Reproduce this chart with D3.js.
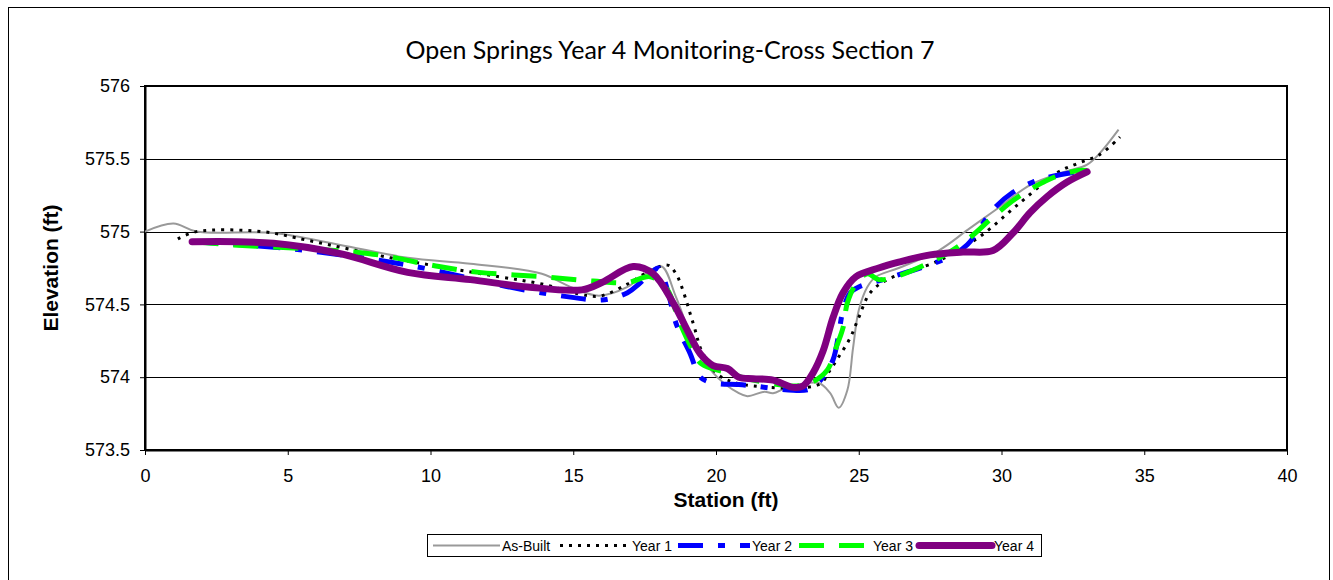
<!DOCTYPE html>
<html><head><meta charset="utf-8">
<script src="https://cdn.jsdelivr.net/npm/d3@7"></script>
<style>body{margin:0;background:#fff}svg{display:block}</style>
</head><body>
<svg id="c" width="1333" height="580"></svg>
<script>
const chartTitle = "Open Springs Year 4 Monitoring-Cross Section 7";
const xTicks = [0,5,10,15,20,25,30,35,40];
const yTicks = [573.5,574,574.5,575,575.5,576];
const seriesNames = ["As-Built","Year 1","Year 2","Year 3","Year 4"];

const asBuiltX = [0,1.0,1.8,4.5,6.8,9.2,11.4,13.9,14.9,15.9,16.9,17.6,18.1,18.6,19.2,19.9,20.8,21.1,21.7,22.0,22.5,23.6,24.0,24.3,24.6,24.8,25.0,25.3,25.6,26.4,27.8,28.8,29.8,31.0,32.2,33.0,33.45,34.1];
const asBuiltY = [575.0,575.055,575.0,574.99,574.91,574.82,574.78,574.71,574.62,574.56,574.62,574.72,574.76,574.55,574.25,574.03,573.89,573.87,573.90,573.89,573.93,573.96,573.89,573.79,573.91,574.20,574.46,574.62,574.69,574.75,574.87,575.01,575.15,575.32,575.41,575.46,575.54,575.70];

const year1X = [1.15,1.8,4.1,5.7,8.6,10.3,12.4,13.9,15.5,16.0,16.9,17.6,18.3,18.6,19.2,19.5,20.0,20.4,21.3,23.6,24.0,24.3,24.7,25.0,25.4,26.0,27.8,29.2,30.6,32.0,32.7,33.45,34.15];
const year1Y = [574.95,575.0,575.0,574.94,574.82,574.76,574.69,574.64,574.56,574.56,574.64,574.72,574.77,574.71,574.37,574.18,574.03,573.98,573.94,573.95,574.05,574.14,574.27,574.41,574.58,574.67,574.80,574.96,575.19,575.41,575.47,575.53,575.65];

const year2X = [1.7,5.2,9.2,13.0,14.9,16.0,16.9,17.3,17.8,18.0,18.3,18.6,19.1,19.45,19.9,20.8,21.3,22.7,23.3,23.75,24.1,24.3,24.45,24.7,25.0,26.0,28.1,28.8,29.7,30.4,31.1,31.8,33.0];
const year2Y = [574.93,574.88,574.77,574.61,574.55,574.53,574.58,574.64,574.73,574.75,574.60,574.37,574.16,574.00,573.96,573.95,573.94,573.91,573.92,574.00,574.12,574.30,574.46,574.58,574.62,574.68,574.82,574.91,575.15,575.27,575.34,575.38,575.42];

const year3X = [1.7,3.0,7.8,10.3,11.7,13.9,15.7,16.9,17.7,18.3,18.7,19.2,19.5,20.4,21.3,22.7,23.3,23.9,24.2,24.45,24.6,24.9,25.3,25.7,26.3,28.1,28.9,29.7,30.6,31.8,32.7,33.0];
const year3Y = [574.93,574.91,574.85,574.76,574.72,574.69,574.66,574.65,574.69,574.60,574.39,574.18,574.09,574.03,573.98,573.94,573.96,574.05,574.20,574.34,574.51,574.64,574.71,574.67,574.69,574.85,574.96,575.10,575.24,575.37,575.42,575.42];

const year4X = [1.65,4.5,6.8,9.2,11.4,13.4,15.3,16.0,17.1,17.8,18.5,19.0,19.45,19.9,20.4,20.8,21.3,22.0,22.7,23.05,23.4,23.75,24.1,24.45,24.9,25.7,26.4,27.5,28.65,29.7,30.4,31.0,31.6,32.3,33.0];
const year4Y = [574.93,574.92,574.85,574.72,574.67,574.62,574.60,574.65,574.76,574.71,574.51,574.32,574.16,574.08,574.06,574.00,573.99,573.98,573.93,573.94,574.03,574.18,574.41,574.58,574.69,574.75,574.79,574.84,574.86,574.87,574.99,575.13,575.24,575.34,575.41];

const seriesX = [asBuiltX, year1X, year2X, year3X, year4X];
const seriesY = [asBuiltY, year1Y, year2Y, year3Y, year4Y];
const styles = [
  {color:"#999999", width:2, dash:null},
  {color:"#000000", width:3, dash:"3,6"},
  {color:"#0000ff", width:5, dash:"25,15,7,15"},
  {color:"#00ff00", width:5, dash:"25,15"},
  {color:"#800080", width:7, dash:null}
];

const svg = d3.select("#c");
const F = "'Liberation Sans', Arial, sans-serif";
svg.append("rect").attr("x",8.5).attr("y",7.5).attr("width",1321).attr("height",580).attr("fill","#fff").attr("stroke","#000").attr("stroke-width",1);

const L=145, R=1287, T=86, B=450;
const x = d3.scaleLinear().domain([0,40]).range([L,R]);
const y = d3.scaleLinear().domain([573.5,576]).range([B,T]);

svg.append("g").selectAll("line").data(yTicks.filter(v=>v>573.5 && v<576)).join("line")
  .attr("x1",L).attr("x2",R).attr("y1",d=>Math.round(y(d))+0.5).attr("y2",d=>Math.round(y(d))+0.5)
  .attr("stroke","#000").attr("stroke-width",1);

svg.append("rect").attr("x",L).attr("y",T).attr("width",R-L).attr("height",B-T)
  .attr("fill","none").attr("stroke","#000").attr("stroke-width",2);

const gx = svg.append("g").attr("transform",`translate(0,${B})`)
  .call(d3.axisBottom(x).tickValues(xTicks).tickSize(5).tickSizeOuter(0).tickPadding(14));
gx.select(".domain").attr("stroke","#000").attr("stroke-width",2);
gx.selectAll("text").attr("font-family",F).attr("font-size",18).attr("fill","#000");

const gy = svg.append("g").attr("transform",`translate(${L},0)`)
  .call(d3.axisLeft(y).tickValues(yTicks).tickSize(5).tickSizeOuter(0).tickPadding(10).tickFormat(d3.format("")));
gy.select(".domain").attr("stroke","#000").attr("stroke-width",2);
gy.selectAll("text").attr("font-family",F).attr("font-size",18).attr("fill","#000");

const line = d3.line().x(d=>x(d[0])).y(d=>y(d[1])).curve(d3.curveCatmullRom.alpha(0.5));
const plot = svg.append("g");
seriesX.forEach((xs,i)=>{
  const pts = xs.map((v,j)=>[v, seriesY[i][j]]);
  const st = styles[i];
  plot.append("path").datum(pts).attr("d",line).attr("fill","none")
    .attr("stroke",st.color).attr("stroke-width",st.width)
    .attr("stroke-dasharray",st.dash).attr("stroke-linecap", i===4?"round":"butt")
    .attr("stroke-linejoin","round");
});

svg.append("text").attr("x",670).attr("y",59).attr("text-anchor","middle")
  .attr("font-family","Lato, 'Open Sans', sans-serif").attr("font-size",25).text(chartTitle);
svg.append("text").attr("x",726).attr("y",507).attr("text-anchor","middle")
  .attr("font-family",F).attr("font-weight","bold").attr("font-size",21).text("Station (ft)");
svg.append("text").attr("transform",`translate(58,${(T+B)/2}) rotate(-90)`).attr("text-anchor","middle")
  .attr("font-family",F).attr("font-weight","bold").attr("font-size",21).text("Elevation (ft)");

const lg = svg.append("g");
lg.append("rect").attr("x",427.5).attr("y",534.5).attr("width",614).attr("height",22)
  .attr("fill","#fff").attr("stroke","#000").attr("stroke-width",1);
const lineStarts = [433,560,678,799,919];
const lineEnds = [500,630,750,871,992];
seriesNames.forEach((n,i)=>{
  const st = styles[i];
  lg.append("line").attr("x1",lineStarts[i]).attr("x2",lineEnds[i]).attr("y1",545.5).attr("y2",545.5)
    .attr("stroke",st.color).attr("stroke-width",st.width).attr("stroke-dasharray",st.dash)
    .attr("stroke-linecap", i===4?"round":"butt");
  lg.append("text").attr("x",lineEnds[i]+2).attr("y",551).attr("font-family",F).attr("font-size",14).text(n);
});
</script>
</body></html>
